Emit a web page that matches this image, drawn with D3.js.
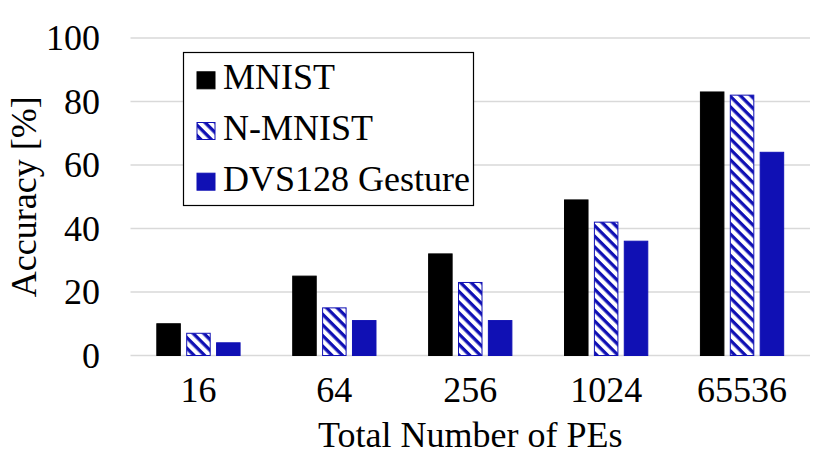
<!DOCTYPE html>
<html><head><meta charset="utf-8">
<script src="https://cdn.jsdelivr.net/npm/d3@7"></script>
<style>body{margin:0;background:#fff}svg{display:block}</style>
</head><body>
<script>
const categories = ["16","64","256","1024","65536"];
const seriesNames = ["MNIST","N-MNIST","DVS128 Gesture"];
const mnist = [10,25,32,49,83];
const nmnist = [7,15,23,42,82];
const dvs = [4,11,11,36,64];
const yTicks = [0,20,40,60,80,100];
const seriesValues = [mnist, nmnist, dvs];

(function(){
const W=830,H=466;
const blue="#1010b4";
const FF='"Liberation Serif"';
const FS="36px";
const svg=d3.select("body").append("svg").attr("width",W).attr("height",H);
const defs=svg.append("defs");
const pat=defs.append("pattern").attr("id","hatch").attr("patternUnits","userSpaceOnUse")
  .attr("width",7.5).attr("height",7.5).attr("patternTransform","rotate(45)");
pat.append("rect").attr("width",7.5).attr("height",7.5).attr("fill","#fff");
pat.append("rect").attr("width",7.5).attr("height",3.3).attr("fill",blue);

const pL=130.5,pR=810,pT=38,pB=355.5;
const y=d3.scaleLinear().domain([0,100]).range([pB,pT]);
const x0=d3.scaleBand().domain(categories).range([pL,pR]).paddingInner(0.38).paddingOuter(0.19);
const x1=d3.scaleBand().domain(seriesNames).range([0,x0.bandwidth()]).paddingInner(0.18);
const fills=["#000","url(#hatch)",blue];
const strokes=["#000",blue,blue];

svg.append("g").selectAll("line").data(yTicks).join("line")
  .attr("x1",pL).attr("x2",pR).attr("y1",d=>y(d)).attr("y2",d=>y(d))
  .attr("stroke","#d9d9d9").attr("stroke-width",1.5);

const yAxis=d3.axisLeft(y).tickValues(yTicks).tickSize(0).tickPadding(0);
const gy=svg.append("g").attr("transform",`translate(100,0)`).call(yAxis);
gy.select(".domain").remove();
gy.attr("font-family",null).attr("font-size",null);
gy.selectAll("text").style("font-family",FF).style("font-size",FS).attr("fill","#000");

seriesNames.forEach((s,si)=>{
  svg.append("g").selectAll("rect").data(categories).join("rect")
    .attr("x",c=>x0(c)+x1(s)+0.5)
    .attr("y",(c,i)=>y(seriesValues[si][i]))
    .attr("width",x1.bandwidth()-1)
    .attr("height",(c,i)=>y(0)-y(seriesValues[si][i]))
    .attr("fill",fills[si]).attr("stroke",strokes[si]).attr("stroke-width",1);
});

const xAxis=d3.axisBottom(x0).tickSize(0).tickPadding(0);
const gx=svg.append("g").attr("transform",`translate(0,402)`).call(xAxis);
gx.select(".domain").remove();
gx.attr("font-family",null).attr("font-size",null);
gx.selectAll("text").style("font-family",FF).style("font-size",FS).attr("fill","#000").attr("dy","0");

svg.append("text").attr("x",(pL+pR)/2).attr("y",447).attr("text-anchor","middle")
  .style("font-family",FF).style("font-size",FS).text("Total Number of PEs");
svg.append("text").attr("transform",`translate(36,${(pT+pB)/2}) rotate(-90)`).attr("text-anchor","middle")
  .style("font-family",FF).style("font-size",FS).text("Accuracy [%]");

const lg=svg.append("g");
lg.append("rect").attr("x",183.5).attr("y",52.5).attr("width",290).attr("height",153)
  .attr("fill","#fff").attr("stroke","#000").attr("stroke-width",1.2);
seriesNames.forEach((s,i)=>{
  const base=89.3+i*50.7;
  lg.append("rect").attr("x",197).attr("y",base-17.5).attr("width",18).attr("height",17)
    .attr("fill",fills[i]).attr("stroke",strokes[i]).attr("stroke-width",1);
  lg.append("text").attr("x",223).attr("y",base)
    .style("font-family",FF).style("font-size",FS).text(s);
});
})();
</script>
</body></html>
